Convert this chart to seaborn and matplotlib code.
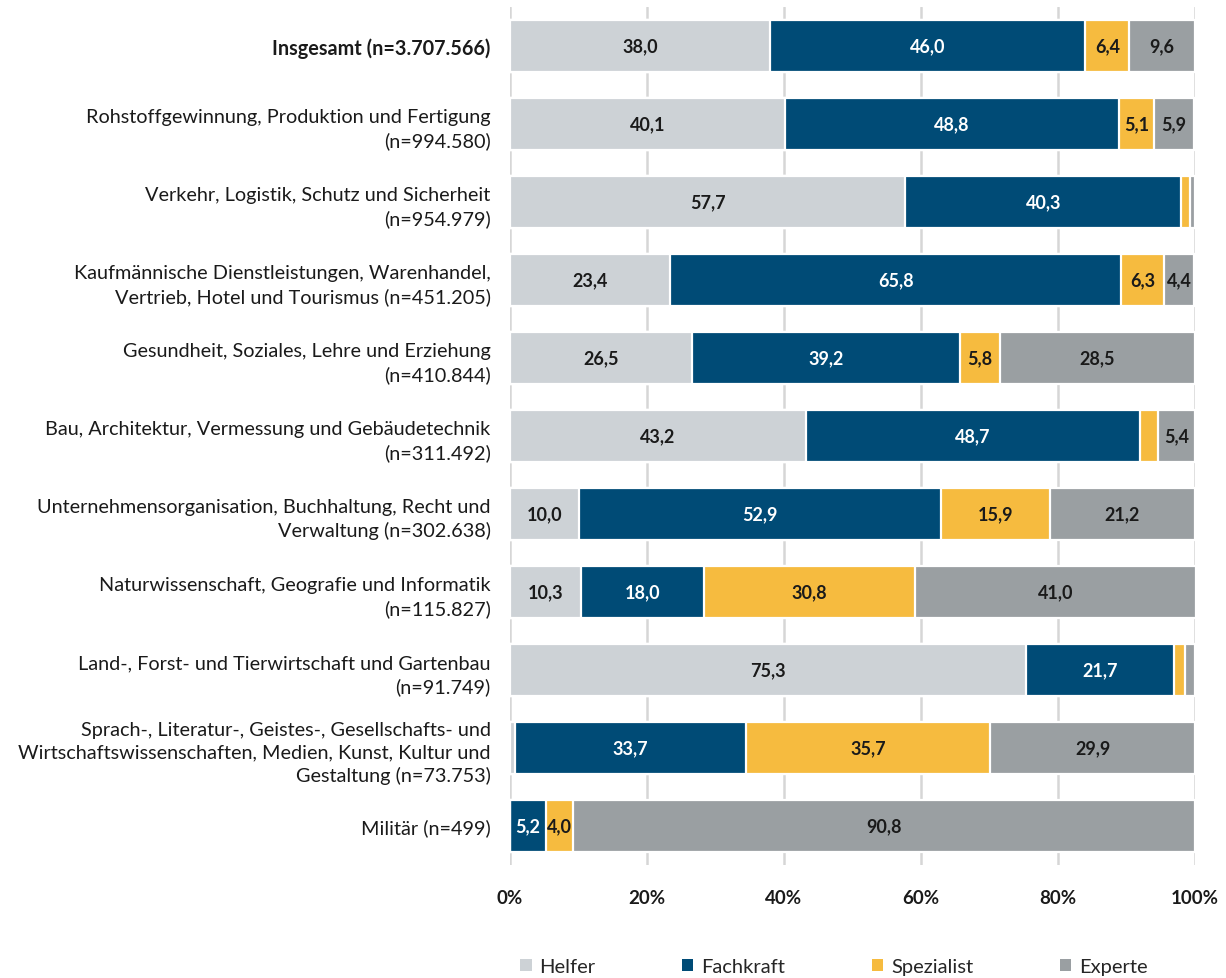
import numpy as np
import pandas as pd
import matplotlib
matplotlib.use("Agg")
import matplotlib.pyplot as plt
import seaborn as sns
from matplotlib.patches import Patch

categories = [
    "Insgesamt (n=3.707.566)",
    "Rohstoffgewinnung, Produktion und Fertigung\n(n=994.580)",
    "Verkehr, Logistik, Schutz und Sicherheit\n(n=954.979)",
    "Kaufmännische Dienstleistungen, Warenhandel,\nVertrieb, Hotel und Tourismus (n=451.205)",
    "Gesundheit, Soziales, Lehre und Erziehung\n(n=410.844)",
    "Bau, Architektur, Vermessung und Gebäudetechnik\n(n=311.492)",
    "Unternehmensorganisation, Buchhaltung, Recht und\nVerwaltung (n=302.638)",
    "Naturwissenschaft, Geografie und Informatik\n(n=115.827)",
    "Land-, Forst- und Tierwirtschaft und Gartenbau\n(n=91.749)",
    "Sprach-, Literatur-, Geistes-, Gesellschafts- und\nWirtschaftswissenschaften, Medien, Kunst, Kultur und\nGestaltung (n=73.753)",
    "Militär (n=499)",
]
series_names = ["Helfer", "Fachkraft", "Spezialist", "Experte"]
helfer = [38.0, 40.1, 57.7, 23.4, 26.5, 43.2, 10.0, 10.3, 75.3, 0.7, 0.0]
fachkraft = [46.0, 48.8, 40.3, 65.8, 39.2, 48.7, 52.9, 18.0, 21.7, 33.7, 5.2]
spezialist = [6.4, 5.1, 1.3, 6.3, 5.8, 2.7, 15.9, 30.8, 1.6, 35.7, 4.0]
experte = [9.6, 5.9, 0.7, 4.4, 28.5, 5.4, 21.2, 41.0, 1.4, 29.9, 90.8]
xtick_values = [0, 20, 40, 60, 80, 100]
xtick_labels = ["0%", "20%", "40%", "60%", "80%", "100%"]

colors = ["#CDD2D6", "#004B76", "#F6BB3F", "#9A9FA2"]
text_colors = ["#1a1a1a", "white", "#1a1a1a", "#1a1a1a"]

sns.set_theme(style="white")
plt.rcParams["font.family"] = ["Lato", "DejaVu Sans"]

series = [helfer, fachkraft, spezialist, experte]
df = pd.DataFrame({"Kategorie": categories})
for name, vals in zip(series_names, series):
    df[name] = vals
cum = df[series_names].cumsum(axis=1)

fig = plt.figure(figsize=(12.26, 9.79), dpi=100)
ax = fig.add_axes([510 / 1226, 1 - 866 / 979, 685 / 1226, 858 / 979])

# draw cumulative bars from the outermost inward
for i in range(len(series_names) - 1, -1, -1):
    d = pd.DataFrame({"Kategorie": categories, "val": cum[series_names[i]].values})
    sns.barplot(data=d, x="val", y="Kategorie", orient="h", color=colors[i],
                width=0.66, edgecolor="white", linewidth=1.6, saturation=1,
                ax=ax, zorder=3)

# value labels
for i, name in enumerate(series_names):
    for j in range(len(categories)):
        v = df[name].iloc[j]
        if v >= 4:
            start = cum[name].iloc[j] - v
            ax.text(start + v / 2, j, f"{v:.1f}".replace(".", ","),
                    ha="center", va="center", fontsize=13, fontweight="bold",
                    color=text_colors[i], zorder=5)

ax.set_xlim(0, 100)
ax.set_ylim(10.5, -0.5)
ax.set_xticks(xtick_values)
ax.set_xticklabels(xtick_labels, fontsize=13.5, fontweight="bold", color="#1a1a1a")
ax.set_yticks(range(len(categories)))
ax.set_yticklabels(categories, fontsize=14.3, color="#1a1a1a", linespacing=1.4)
ax.get_yticklabels()[0].set_fontweight("bold")
ax.tick_params(axis="y", length=0, pad=14)
ax.tick_params(axis="x", length=0, pad=17)
ax.set_xlabel("")
ax.set_ylabel("")
for s in ax.spines.values():
    s.set_visible(False)
ax.xaxis.grid(True, color="#D6D6D6", linewidth=1.8, zorder=0)
ax.set_axisbelow(True)

handles = [Patch(facecolor=c, edgecolor="none") for c in colors]
fig.legend(handles, series_names, loc="center", bbox_to_anchor=(834 / 1226, 1 - 968 / 979),
           ncol=4, frameon=False, fontsize=14.5, handlelength=0.55, handleheight=0.55,
           handletextpad=0.4, columnspacing=4.3)

fig.savefig("out.png", dpi=100)
